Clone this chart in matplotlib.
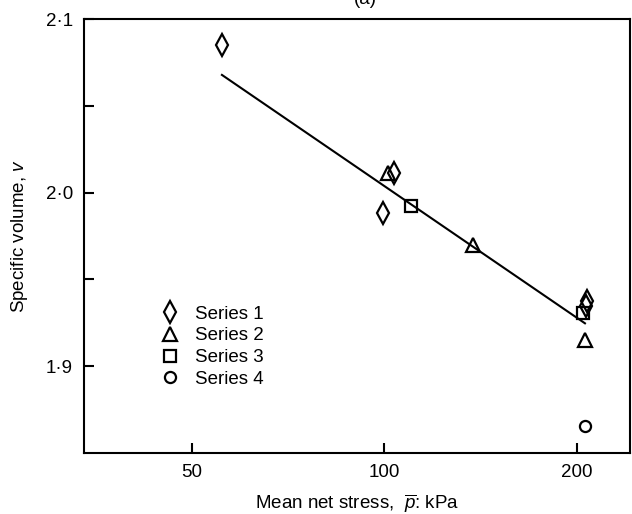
import matplotlib
matplotlib.use("Agg")
import matplotlib.pyplot as plt
from matplotlib.ticker import FixedLocator, NullLocator, FixedFormatter

plt.rcParams["font.family"] = ["Liberation Sans", "DejaVu Sans"]
plt.rcParams["mathtext.fontset"] = "custom"
plt.rcParams["mathtext.it"] = "Liberation Sans:italic"
plt.rcParams["mathtext.rm"] = "Liberation Sans"

#---DATA---
s1_p = [55.7, 99.5, 103.6, 207.0, 206.3]
s1_v = [2.085, 1.9885, 2.0115, 1.9374, 1.9345]

s2_p = [101.1, 137.3, 205.8]
s2_v = [2.0115, 1.970, 1.915]

s3_p = [110.2, 204.3]
s3_v = [1.9925, 1.9305]

s4_p = [205.8]
s4_v = [1.8655]

fit_p = [55.7, 205.8]
fit_v = [2.0678, 1.9247]

x_ticks = [50, 100, 200]
y_major = [1.9, 2.0, 2.1]
y_labels = ["1·9", "2·0", "2·1"]
y_minor = [1.95, 2.05]

FS = 13.5

#---FIGURE---
fig = plt.figure(figsize=(6.32, 5.14), dpi=100)
ax = fig.add_axes([0.1329, 0.1187, 0.8639, 0.8443])

ax.plot(fit_p, fit_v, color="black", lw=1.5, zorder=1)

mk = dict(linestyle="none", markerfacecolor="none", markeredgecolor="black",
          markeredgewidth=1.6, zorder=2)
ax.plot(s1_p, s1_v, marker="d", markersize=11, label="Series 1", **mk)
ax.plot(s2_p, s2_v, marker="^", markersize=10, label="Series 2", **mk)
ax.plot(s3_p, s3_v, marker="s", markersize=8, label="Series 3", **mk)
ax.plot(s4_p, s4_v, marker="o", markersize=8, label="Series 4", **mk)

ax.set_xscale("log")
ax.set_xlim(33.9, 242)
ax.set_ylim(1.85, 2.1)

ax.xaxis.set_major_locator(FixedLocator(x_ticks))
ax.xaxis.set_major_formatter(FixedFormatter([str(t) for t in x_ticks]))
ax.xaxis.set_minor_locator(NullLocator())
ax.yaxis.set_major_locator(FixedLocator(y_major))
ax.yaxis.set_major_formatter(FixedFormatter(y_labels))
ax.yaxis.set_minor_locator(FixedLocator(y_minor))

ax.tick_params(axis="both", which="both", direction="in", width=1.5,
               labelsize=FS, colors="black", top=False, right=False)
ax.tick_params(axis="both", which="major", length=7)
ax.tick_params(axis="y", which="minor", length=7)
ax.tick_params(axis="y", which="major", pad=8)
ax.tick_params(axis="x", which="major", pad=8)

for spine in ax.spines.values():
    spine.set_linewidth(1.5)

ax.set_xlabel(r"Mean net stress,  $\overline{p}$: kPa", fontsize=FS, labelpad=8)
ax.set_ylabel(r"Specific volume, $v$", fontsize=FS, labelpad=11)

ax.legend(loc="upper left", bbox_to_anchor=(0.140, 0.340), frameon=False,
          fontsize=FS, borderpad=0, borderaxespad=0, handlelength=1.0,
          handletextpad=0.85, labelspacing=0.25)

fig.text(365 / 632, 1, "(a)", ha="center", va="center", fontsize=FS)

fig.savefig("out.png", dpi=100)
